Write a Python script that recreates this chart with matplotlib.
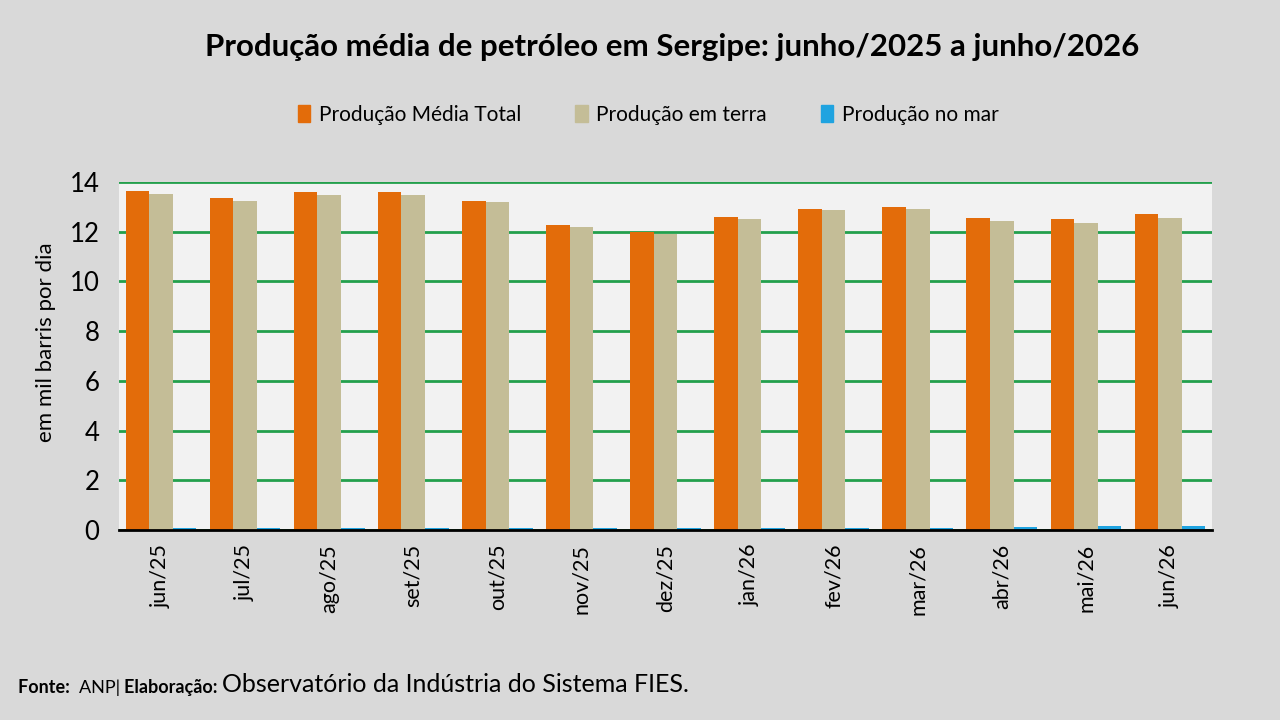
import numpy as np
import matplotlib
matplotlib.use("Agg")
import matplotlib.pyplot as plt
from matplotlib.patches import Patch

# data (mil barris por dia)
months = ["jun/25", "jul/25", "ago/25", "set/25", "out/25", "nov/25", "dez/25",
          "jan/26", "fev/26", "mar/26", "abr/26", "mai/26", "jun/26"]
total = [13.62, 13.36, 13.58, 13.58, 13.25, 12.28, 12.00, 12.60, 12.93, 12.98, 12.55, 12.50, 12.72]
terra = [13.52, 13.25, 13.47, 13.48, 13.20, 12.17, 11.90, 12.50, 12.88, 12.93, 12.45, 12.34, 12.56]
mar = [0.09, 0.09, 0.09, 0.09, 0.08, 0.09, 0.09, 0.09, 0.08, 0.08, 0.14, 0.15, 0.15]
series_names = ["Produção Média Total", "Produção em terra", "Produção no mar"]
yticks = [0, 2, 4, 6, 8, 10, 12, 14]

plt.rcParams["font.family"] = ["Lato", "DejaVu Sans"]

orange = "#E36C0A"
beige = "#C4BD97"
blue = "#1FA3E0"
grid_green = "#23A04C"

fig = plt.figure(figsize=(12.8, 7.2), dpi=100, facecolor="#D9D9D9")
ax = fig.add_axes([119 / 1280, 190 / 720, (1212 - 119) / 1280, (530 - 182) / 720])
ax.set_facecolor("#F2F2F2")

x = np.arange(len(months))
w = 0.28
ax.bar(x - w, total, w, color=orange, zorder=3)
ax.bar(x, terra, w, color=beige, zorder=3)
ax.bar(x + w, mar, w, color=blue, zorder=3)

ax.set_xlim(-0.5, len(months) - 0.5)
ax.set_ylim(0, 14)
ax.set_yticks(yticks)
ax.yaxis.grid(True, color=grid_green, linewidth=2, zorder=1)
ax.set_axisbelow(True)
for s in ["top", "right", "left"]:
    ax.spines[s].set_visible(False)
ax.spines["bottom"].set_color("black")
ax.spines["bottom"].set_linewidth(2)
ax.spines["bottom"].set_zorder(4)

ax.set_xticks(x)
ax.set_xticklabels(months, rotation=90, fontsize=15.5)
ax.tick_params(axis="x", length=0, pad=10)
ax.tick_params(axis="y", length=0, labelsize=18.5, pad=14)
ax.set_ylabel("em mil barris por dia", fontsize=16)
ax.yaxis.set_label_coords(-0.058, 0.54)

fig.text(672 / 1280, 1 - 47 / 720, "Produção média de petróleo em Sergipe: junho/2025 a junho/2026",
         ha="center", va="center", fontsize=22.5, fontweight="bold")

handles = [Patch(color=c) for c in [orange, beige, blue]]
fig.legend(handles, series_names, loc="center", bbox_to_anchor=(648 / 1280, 1 - 115 / 720),
           ncol=3, frameon=False, fontsize=15, handlelength=0.6, handleheight=0.9,
           handletextpad=0.4, columnspacing=2.6)

# footer: pieces chained one after another
anchor = fig.text(18 / 1280, 1 - 693 / 720, "Fonte:  ", fontsize=13, fontweight="bold",
                  va="baseline")
parts = [("ANP| ", 13, "normal"), ("Elaboração: ", 13, "bold"),
         ("Observatório da Indústria do Sistema FIES.", 18, "normal")]
for txt, size, weight in parts:
    anchor = ax.annotate(txt, xy=(1, 0), xycoords=anchor, xytext=(0, 0),
                         textcoords="offset points", fontsize=size, fontweight=weight,
                         va="bottom", ha="left", annotation_clip=False)

fig.savefig("out.png", dpi=100, facecolor=fig.get_facecolor())
